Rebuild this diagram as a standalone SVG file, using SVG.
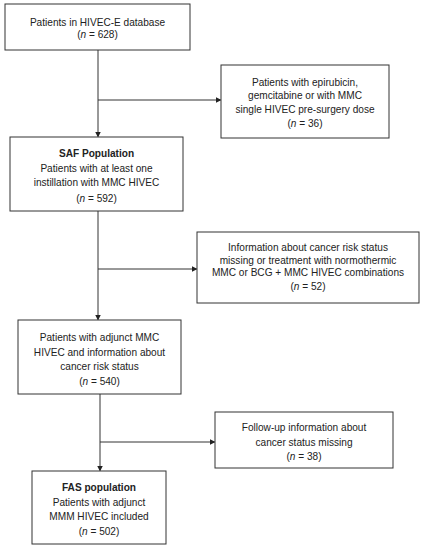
<svg xmlns="http://www.w3.org/2000/svg" width="421" height="550" viewBox="0 0 421 550">
<defs>
<style>
.box{fill:#fff;stroke:#333;stroke-width:1}
.t{font-family:"Liberation Sans",Arial,sans-serif;font-size:10.1px;fill:#222;text-anchor:middle}
.b{font-weight:bold}
.ln{fill:none;stroke:#333;stroke-width:1}
</style>
<marker id="ah" markerWidth="6" markerHeight="6" refX="5" refY="3" orient="auto" markerUnits="userSpaceOnUse">
<path d="M0,0 L6,3 L0,6 Z" fill="#222"/>
</marker>
</defs>
<rect width="421" height="550" fill="#fff"/>
<g id="connectors">
<path class="ln" d="M98,50 V136.5" marker-end="url(#ah)"/>
<path class="ln" d="M98,100 H220.5" marker-end="url(#ah)"/>
<path class="ln" d="M98,211 V319.5" marker-end="url(#ah)"/>
<path class="ln" d="M98,269 H196.5" marker-end="url(#ah)"/>
<path class="ln" d="M100,394 V470.5" marker-end="url(#ah)"/>
<path class="ln" d="M100,442 H214.5" marker-end="url(#ah)"/>
</g>
<g id="n1">
<rect class="box" x="5" y="4" width="185" height="46"/>
<text class="t" x="97.5" y="26">Patients in HIVEC-E database</text>
<text class="t" x="97.5" y="38">(<tspan font-style="italic">n</tspan> = 628)</text>
</g>
<g id="n2">
<rect class="box" x="221" y="65" width="168" height="73"/>
<text class="t" x="305" y="86">Patients with epirubicin,</text>
<text class="t" x="305" y="99">gemcitabine or with MMC</text>
<text class="t" x="305" y="113">single HIVEC pre-surgery dose</text>
<text class="t" x="305" y="127">(<tspan font-style="italic">n</tspan> = 36)</text>
</g>
<g id="n3">
<rect class="box" x="10" y="137" width="173" height="74"/>
<text class="t b" x="96.5" y="157">SAF Population</text>
<text class="t" x="96.5" y="171.5">Patients with at least one</text>
<text class="t" x="96.5" y="186">instillation with MMC HIVEC</text>
<text class="t" x="96.5" y="201.5">(<tspan font-style="italic">n</tspan> = 592)</text>
</g>
<g id="n4">
<rect class="box" x="197" y="232" width="222" height="71"/>
<text class="t" x="308" y="251">Information about cancer risk status</text>
<text class="t" x="308" y="263.5">missing or treatment with normothermic</text>
<text class="t" x="308" y="276">MMC or BCG + MMC HIVEC combinations</text>
<text class="t" x="308" y="289.5">(<tspan font-style="italic">n</tspan> = 52)</text>
</g>
<g id="n5">
<rect class="box" x="18" y="320" width="163" height="74"/>
<text class="t" x="99.5" y="341">Patients with adjunct MMC</text>
<text class="t" x="99.5" y="355.5">HIVEC and information about</text>
<text class="t" x="99.5" y="369.5">cancer risk status</text>
<text class="t" x="99.5" y="384.5">(<tspan font-style="italic">n</tspan> = 540)</text>
</g>
<g id="n6">
<rect class="box" x="215" y="412" width="178" height="56"/>
<text class="t" x="304" y="431">Follow-up information about</text>
<text class="t" x="304" y="445.5">cancer status missing</text>
<text class="t" x="304" y="459.5">(<tspan font-style="italic">n</tspan> = 38)</text>
</g>
<g id="n7">
<rect class="box" x="32" y="471" width="134" height="73"/>
<text class="t b" x="99" y="491">FAS population</text>
<text class="t" x="99" y="505.5">Patients with adjunct</text>
<text class="t" x="99" y="520">MMM HIVEC included</text>
<text class="t" x="99" y="534.5">(<tspan font-style="italic">n</tspan> = 502)</text>
</g>
</svg>
